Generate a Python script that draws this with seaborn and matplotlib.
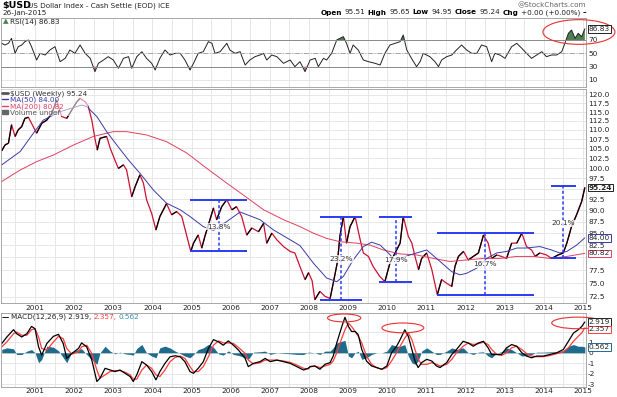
# %%
import matplotlib
matplotlib.use("Agg")
import matplotlib.pyplot as plt
import numpy as np
import seaborn as sns
from matplotlib.collections import LineCollection
from matplotlib.lines import Line2D
from matplotlib.patches import Ellipse, Patch
from matplotlib.ticker import FixedLocator, FuncFormatter, MultipleLocator, NullLocator

OUT_FILE = "out.png"
W, H = 617, 397

# weekly close of $USD (decimal year, index level)
price_t = [2000.15, 2000.23, 2000.32, 2000.40, 2000.49, 2000.57, 2000.66, 2000.74, 2000.83, 2000.91,
           2001.04, 2001.17, 2001.30, 2001.43, 2001.55, 2001.68, 2001.81, 2001.94, 2002.07, 2002.15,
           2002.28, 2002.36, 2002.45, 2002.53, 2002.59, 2002.66, 2002.83, 2002.92, 2003.04, 2003.13,
           2003.26, 2003.34, 2003.47, 2003.56, 2003.68, 2003.77, 2003.85, 2003.98, 2004.09, 2004.19,
           2004.36, 2004.49, 2004.62, 2004.75, 2004.88, 2004.98, 2005.05, 2005.17, 2005.26, 2005.34,
           2005.47, 2005.56, 2005.64, 2005.77, 2005.90, 2006.03, 2006.15, 2006.28, 2006.41, 2006.54,
           2006.71, 2006.84, 2006.92, 2007.05, 2007.18, 2007.35, 2007.52, 2007.64, 2007.77, 2007.90,
           2007.99, 2008.08, 2008.15, 2008.28, 2008.41, 2008.54, 2008.62, 2008.73, 2008.79, 2008.88,
           2008.96, 2009.05, 2009.18, 2009.29, 2009.39, 2009.52, 2009.64, 2009.81, 2009.94, 2010.07,
           2010.20, 2010.33, 2010.41, 2010.54, 2010.63, 2010.71, 2010.80, 2010.88, 2011.01, 2011.14,
           2011.28, 2011.39, 2011.52, 2011.65, 2011.73, 2011.82, 2011.95, 2012.07, 2012.20, 2012.33,
           2012.46, 2012.58, 2012.67, 2012.80, 2012.92, 2013.05, 2013.18, 2013.31, 2013.44, 2013.56,
           2013.69, 2013.78, 2013.90, 2014.07, 2014.20, 2014.37, 2014.50, 2014.59, 2014.71, 2014.84,
           2014.97, 2015.05]
price_v = [104.4, 105.9, 106.4, 111.4, 108.2, 110.0, 110.9, 113.2, 113.5, 111.8,
           109.1, 111.8, 112.7, 114.6, 118.5, 113.7, 113.2, 115.6, 118.0, 119.0,
           118.0, 116.6, 112.7, 107.7, 104.6, 107.7, 108.2, 105.1, 102.0, 99.9,
           100.8, 99.5, 93.1, 95.5, 98.3, 96.3, 92.4, 89.3, 85.7, 88.6,
           91.5, 89.0, 89.7, 88.6, 84.3, 81.2, 82.9, 84.6, 81.9, 84.3,
           87.9, 90.5, 87.9, 90.8, 92.4, 90.1, 90.8, 88.6, 84.6, 86.1,
           85.3, 87.1, 82.9, 85.0, 83.6, 82.2, 81.2, 80.9, 78.2, 75.7,
           77.0, 75.5, 72.0, 73.5, 72.6, 72.2, 75.0, 79.2, 84.3, 88.6,
           82.9, 86.4, 88.6, 84.3, 80.9, 80.2, 78.2, 76.3, 75.3, 78.9,
           80.9, 82.9, 88.6, 84.3, 82.9, 80.2, 77.6, 79.8, 80.9, 77.6,
           72.9, 75.7, 75.0, 74.4, 78.2, 80.2, 81.2, 79.5, 80.2, 80.9,
           84.6, 82.9, 79.8, 80.5, 80.2, 79.8, 82.9, 82.9, 85.0, 82.2,
           81.5, 80.2, 80.9, 80.5, 79.8, 80.5, 80.9, 82.9, 86.4, 89.0,
           92.0, 95.24]

ma50_t = [2000.15, 2000.62, 2000.96, 2001.21, 2001.64, 2002.19, 2002.32, 2002.58, 2002.83, 2003.09,
          2003.39, 2003.68, 2004.02, 2004.36, 2004.71, 2004.96, 2005.30, 2005.56, 2005.90, 2006.24,
          2006.75, 2007.09, 2007.52, 2007.77, 2008.11, 2008.45, 2008.71, 2008.88, 2009.13, 2009.39,
          2009.60, 2009.82, 2009.99, 2010.16, 2010.33, 2010.58, 2011.01, 2011.35, 2011.65, 2011.86,
          2012.03, 2012.29, 2012.54, 2012.80, 2013.05, 2013.31, 2013.56, 2013.90, 2014.20, 2014.41,
          2014.59, 2014.84, 2015.05]
ma50_v = [100.8, 104.2, 109.1, 112.7, 115.1, 117.0, 116.6, 113.7, 109.5, 105.9,
          102.0, 98.7, 94.7, 91.6, 90.1, 88.6, 86.4, 85.6, 87.5, 89.6,
          87.9, 85.7, 83.6, 82.4, 78.9, 76.0, 75.3, 76.3, 79.5, 82.2,
          83.1, 82.5, 81.2, 79.8, 79.8, 80.5, 81.5, 79.2, 77.2, 76.6,
          76.9, 77.9, 79.8, 80.9, 81.2, 81.9, 81.9, 82.2, 81.5, 80.9,
          81.2, 82.5, 84.00]

ma200_t = [2000.15, 2000.62, 2001.04, 2001.47, 2001.98, 2002.49, 2003.00, 2003.34, 2003.85, 2004.36,
           2004.88, 2005.39, 2005.90, 2006.32, 2006.84, 2007.35, 2007.77, 2008.11, 2008.45, 2008.79,
           2009.22, 2009.56, 2009.90, 2010.33, 2010.75, 2011.18, 2011.60, 2012.03, 2012.46, 2012.88,
           2013.31, 2013.73, 2014.16, 2014.59, 2015.05]
ma200_v = [96.7, 99.5, 101.6, 103.3, 105.9, 108.2, 109.5, 109.5, 108.6, 106.8,
           103.8, 99.9, 96.3, 93.5, 90.1, 87.9, 86.4, 85.0, 83.9, 83.2,
           82.9, 82.5, 81.5, 80.7, 80.5, 79.8, 79.2, 79.5, 79.8, 79.8,
           80.2, 80.2, 79.8, 80.2, 80.82]

rsi_t = [2000.15, 2000.23, 2000.32, 2000.40, 2000.49, 2000.57, 2000.66, 2000.74, 2000.83, 2000.91,
         2001.04, 2001.13, 2001.26, 2001.38, 2001.51, 2001.64, 2001.77, 2001.89, 2002.02, 2002.15,
         2002.28, 2002.41, 2002.53, 2002.62, 2002.75, 2002.87, 2003.00, 2003.13, 2003.26, 2003.39,
         2003.47, 2003.60, 2003.73, 2003.85, 2003.98, 2004.07, 2004.19, 2004.32, 2004.45, 2004.58,
         2004.71, 2004.83, 2004.96, 2005.05, 2005.17, 2005.30, 2005.43, 2005.52, 2005.60, 2005.73,
         2005.90, 2005.98, 2006.11, 2006.24, 2006.37, 2006.49, 2006.62, 2006.75, 2006.84, 2006.92,
         2007.05, 2007.18, 2007.35, 2007.52, 2007.64, 2007.77, 2007.90, 2008.03, 2008.16, 2008.24,
         2008.37, 2008.45, 2008.58, 2008.71, 2008.79, 2008.88, 2008.96, 2009.05, 2009.13,
         2009.26, 2009.39, 2009.52, 2009.69, 2009.82, 2009.94, 2010.07, 2010.20, 2010.33, 2010.41,
         2010.50, 2010.62, 2010.75, 2010.84, 2010.92, 2011.09, 2011.22, 2011.31, 2011.39, 2011.52,
         2011.65, 2011.77, 2011.90, 2012.03, 2012.16, 2012.29, 2012.41, 2012.54, 2012.67, 2012.75,
         2012.88, 2013.01, 2013.18, 2013.31, 2013.44, 2013.56, 2013.69, 2013.82, 2013.95, 2014.07,
         2014.20, 2014.33, 2014.46, 2014.54, 2014.63, 2014.71, 2014.80, 2014.88, 2014.97, 2015.05]
rsi_v = [65, 62.5, 65, 72.5, 50, 60, 62.5, 67.5, 70, 60,
         40, 50, 47.5, 55, 60, 37.5, 42.5, 55, 50, 62.5,
         50, 42.5, 22.5, 35, 40, 45, 40, 27.5, 42.5, 45,
         27.5, 45, 52.5, 42.5, 35, 25, 42.5, 55, 47.5, 50,
         50, 40, 25, 35, 50, 52.5, 67.5, 65, 50, 52.5,
         65, 55, 50, 52.5, 32.5, 40, 45, 47.5, 50, 40,
         47.5, 45, 35, 40, 30, 37.5, 22.5, 40, 42.5, 30,
         42.5, 40, 50, 70, 72.5, 75, 65, 50, 62.5,
         55, 40, 37.5, 35, 32.5, 50, 62.5, 65, 67.5, 77.5,
         55, 42.5, 30, 37.5, 50, 45, 37.5, 30, 40, 45,
         47.5, 55, 62.5, 55, 50, 50, 62.5, 60, 37.5, 50,
         47.5, 42.5, 60, 65, 57.5, 50, 42.5, 47.5, 52.5, 45,
         47.5, 47.5, 52.5, 65, 80, 85, 72.5, 80, 75, 86.83]

macd_t = [2000.15, 2000.28, 2000.45, 2000.53, 2000.66, 2000.79, 2000.91, 2001.00, 2001.09, 2001.17,
          2001.30, 2001.47, 2001.60, 2001.72, 2001.81, 2001.94, 2002.11, 2002.19, 2002.32, 2002.45,
          2002.58, 2002.66, 2002.79, 2002.92, 2003.04, 2003.17, 2003.30, 2003.43, 2003.51, 2003.60,
          2003.73, 2003.85, 2003.98, 2004.09, 2004.19, 2004.32, 2004.45, 2004.58, 2004.71, 2004.83,
          2004.96, 2005.05, 2005.17, 2005.30, 2005.43, 2005.56, 2005.69, 2005.81, 2005.94, 2006.07,
          2006.20, 2006.37, 2006.45, 2006.58, 2006.75, 2006.88, 2007.01, 2007.18, 2007.35, 2007.52,
          2007.69, 2007.86, 2007.98,
          2008.03, 2008.15, 2008.28, 2008.41, 2008.54, 2008.62, 2008.71, 2008.84, 2008.92, 2009.01,
          2009.09, 2009.18, 2009.26, 2009.35, 2009.47, 2009.60, 2009.73, 2009.86, 2009.99, 2010.11,
          2010.24, 2010.33, 2010.45, 2010.54, 2010.63, 2010.71, 2010.79, 2010.88, 2011.01, 2011.14,
          2011.26, 2011.35, 2011.52, 2011.65, 2011.77, 2011.94, 2012.07, 2012.20, 2012.33, 2012.46,
          2012.58, 2012.67, 2012.80, 2012.92, 2013.05, 2013.18, 2013.31, 2013.44, 2013.56, 2013.69,
          2013.82, 2013.99, 2014.16, 2014.33, 2014.50, 2014.63, 2014.76, 2014.88, 2014.97, 2015.05]
macd_v = [0.88, 1.50, 2.19, 1.81, 1.50, 1.81, 2.50, 2.28, 0.56, -0.22,
          0.88, 1.56, 1.75, 0.88, -0.53, -0.06, 0.41, 0.94, 0.56, -0.69,
          -2.72, -2.41, -1.47, -1.63, -1.78, -1.63, -1.94, -2.25, -2.72, -2.09,
          -0.84, -1.16, -1.78, -2.56, -1.78, -1.00, -0.38, -0.28, -0.38, -0.84,
          -1.78, -1.94, -1.47, -0.84, 0.41, 1.25, 1.03, 0.72, 1.13, 0.72,
          0.25, -0.53, -1.31, -1.00, -0.84, -0.53, -0.84, -0.69, -0.84, -1.00,
          -1.31, -1.63, -1.47,
          -1.30, -1.25, -1.56, -1.09, -0.93, -0.31, 0.93, 2.49, 3.36, 2.49,
          2.02, 2.02, 1.71, 0.31, -0.78, -1.25, -1.40, -1.56, -1.25, 0.00,
          0.62, 1.25, 2.18, 1.56, 0.31, -0.78, -1.40, -0.93, -0.62, -0.78,
          -1.25, -1.40, -0.93, -0.16, 0.31, 1.09, 0.93, 0.62, 0.93, 1.09,
          0.47, -0.16, -0.16, -0.16, 0.47, 0.78, 0.62, 0.00, -0.31, -0.47,
          -0.31, -0.31, -0.16, 0.00, 0.31, 1.09, 1.87, 2.18, 2.49, 2.919]
signal_v = [0.56, 1.03, 1.81, 1.97, 1.66, 1.66, 2.19, 2.28, 1.50, 0.41,
            0.25, 1.03, 1.56, 1.34, 0.41, -0.13, 0.09, 0.56, 0.72, -0.06,
            -1.63, -2.41, -2.09, -1.78, -1.69, -1.69, -1.84, -2.09, -2.50, -2.50,
            -1.63, -1.16, -1.47, -2.09, -2.25, -1.63, -0.84, -0.44, -0.31, -0.53,
            -1.31, -1.78, -1.78, -1.31, -0.38, 0.72, 1.13, 0.94, 0.94, 0.88,
            0.50, -0.06, -0.69, -1.06, -0.94, -0.69, -0.69, -0.69, -0.78, -0.91,
            -1.16, -1.47, -1.53,
            -1.35, -1.25, -1.40, -1.25, -1.09, -0.78, 0.00, 1.40, 2.18, 2.80,
            2.49, 2.02, 1.56, 0.93, -0.31, -1.09, -1.40, -1.56, -1.40, -0.78,
            0.00, 0.62, 1.40, 1.87, 1.25, 0.31, -0.62, -1.09, -1.09, -0.93,
            -1.09, -1.25, -1.09, -0.62, 0.00, 0.62, 0.93, 0.78, 0.87, 1.00,
            0.78, 0.31, -0.16, -0.25, 0.00, 0.47, 0.62, 0.31, -0.06, -0.31,
            -0.37, -0.37, -0.25, -0.09, 0.09, 0.47, 1.09, 1.56, 1.87, 2.357]

# trading-range brackets drawn on the price panel
box_t0 = [2004.96, 2008.28, 2009.80, 2011.26, 2014.18]
box_t1 = [2006.41, 2009.35, 2010.63, 2013.75, 2014.82]
box_lo = [81.2, 72.0, 75.3, 72.8, 79.8]
box_hi = [92.4, 88.6, 88.6, 85.1, 95.6]
box_mid = [2005.69, 2008.82, 2010.22, 2012.50, 2014.50]
box_pct = ["13.8%", "23.2%", "17.9%", "16.7%", "20.1%"]
box_lab_y = [86.4, 79.7, 79.5, 78.7, 87.1]

# right-axis ticks hidden behind the last-value boxes
hidden_price_ticks = [95.0, 80.0]
hidden_macd_ticks = [2]

RED = "#cc1133"
MA50_C = "#3a3aa8"
MA200_C = "#e2405c"
TEAL = "#1f6b8c"
BRACKET = "#2b3cf5"
GRID = "#e3e3e3"

# %%
sns.set_theme(style="white")
plt.rcParams["font.family"] = ["DejaVu Sans"]

fig = plt.figure(figsize=(W / 100, H / 100), dpi=100)
renderer = fig.canvas.get_renderer()


def px_rect(x0, y0, x1, y1):
    return [x0 / W, 1 - y1 / H, (x1 - x0) / W, (y1 - y0) / H]


def text_run(x_px, y_px, parts, size=5.3, gap=2.5, right=False):
    # lay out text pieces one after another, measured in pixels
    items = [fig.text(0, 1 - y_px / H, txt, fontsize=size, color=col, weight=wt, va="center")
             for txt, col, wt in parts]
    widths = [t.get_window_extent(renderer).width for t in items]
    x = x_px - (sum(widths) + gap * (len(items) - 1)) if right else x_px
    for t, w in zip(items, widths):
        t.set_x(x / W)
        x += w + gap


ax_rsi = fig.add_axes(px_rect(1, 18, 586, 87))
ax_px = fig.add_axes(px_rect(1, 89, 586, 303))
ax_macd = fig.add_axes(px_rect(1, 313, 586, 387))

# RSI panel
r = np.array(rsi_v)
sns.lineplot(x=rsi_t, y=rsi_v, ax=ax_rsi, color="#222222", lw=0.7)
ax_rsi.fill_between(rsi_t, 70, r, where=r > 70, interpolate=True, color="#4f7f52", lw=0)
ax_rsi.fill_between(rsi_t, 30, r, where=r < 30, interpolate=True, color="#c97a93", lw=0)
ax_rsi.axhline(70, color="#8a8a8a", lw=0.7)
ax_rsi.axhline(30, color="#8a8a8a", lw=0.7)
ax_rsi.axhline(50, color="#9a9a9a", lw=0.6, ls=(0, (6, 2, 1, 2)))
ax_rsi.set_ylim(-0.5, 103)
ax_rsi.yaxis.set_major_locator(FixedLocator([10, 30, 50, 70]))

# price panel
sns.lineplot(x=price_t, y=price_v, ax=ax_px, color=RED, lw=0.9)
pts = np.column_stack([price_t, price_v])
segs = np.stack([pts[:-1], pts[1:]], axis=1)[np.diff(price_v) > 0]
ax_px.add_collection(LineCollection(segs, colors="black", linewidths=0.9))
sns.lineplot(x=ma200_t, y=ma200_v, ax=ax_px, color=MA200_C, lw=0.7)
sns.lineplot(x=ma50_t, y=ma50_v, ax=ax_px, color=MA50_C, lw=0.7)

for t0, t1, lo, hi, tm, pct, ly in zip(box_t0, box_t1, box_lo, box_hi, box_mid, box_pct, box_lab_y):
    ax_px.hlines([lo, hi], t0, t1, color=BRACKET, lw=1.4)
    ax_px.vlines(tm, lo, hi, color=BRACKET, lw=1.1, linestyles=(0, (2, 1.5)))
    ax_px.text(tm, ly, pct, ha="center", va="center", fontsize=5.3, color="#333333",
               bbox=dict(boxstyle="square,pad=0.1", fc="white", ec="none", alpha=0.75))

ax_px.set_yscale("log")
ax_px.set_ylim(71.4, 121.8)
ax_px.yaxis.set_major_locator(FixedLocator(np.arange(72.5, 120.1, 2.5)))
ax_px.yaxis.set_minor_locator(NullLocator())
ax_px.yaxis.set_major_formatter(FuncFormatter(
    lambda v, p: "" if any(abs(v - h) < 0.01 for h in hidden_price_ticks) else f"{v:.1f}"))

# MACD panel
hist = np.array(macd_v) - np.array(signal_v)
ax_macd.fill_between(macd_t, 0, hist, color=TEAL, lw=0)
sns.lineplot(x=macd_t, y=signal_v, ax=ax_macd, color="#ff3b3b", lw=0.9)
sns.lineplot(x=macd_t, y=macd_v, ax=ax_macd, color="black", lw=0.9)
ax_macd.set_ylim(-3.24, 3.77)
ax_macd.yaxis.set_major_locator(FixedLocator([-3, -2, -1, 0, 1, 2]))
ax_macd.yaxis.set_major_formatter(FuncFormatter(
    lambda v, p: "" if any(abs(v - h) < 0.01 for h in hidden_macd_ticks) else f"{v:g}"))

for ax in (ax_rsi, ax_px, ax_macd):
    ax.set_xlim(2000.13, 2015.08)
    ax.set_xlabel("")
    ax.set_ylabel("")
    ax.xaxis.set_major_locator(MultipleLocator(1))
    ax.xaxis.set_minor_locator(MultipleLocator(0.5))
    ax.xaxis.set_major_formatter(FuncFormatter(lambda v, p: f"{v:.0f}"))
    ax.grid(True, which="both", axis="x", color=GRID, lw=0.6)
    ax.grid(True, which="major", axis="y", color=GRID, lw=0.6)
    ax.set_axisbelow(True)
    ax.yaxis.tick_right()
    ax.tick_params(axis="both", which="both", length=0, labelsize=5.3, pad=1.5, colors="#222222")
    for s in ax.spines.values():
        s.set_color("#9a9a9a")
        s.set_linewidth(0.6)
ax_rsi.tick_params(labelbottom=False)
ax_macd.tick_params(axis="x", pad=0.5)


def value_box(ax, val, text, ec, weight="normal"):
    ax.annotate(text, xy=(1, val), xycoords=("axes fraction", "data"), xytext=(2, 0),
                textcoords="offset points", ha="left", va="center", fontsize=5.3, weight=weight,
                bbox=dict(boxstyle="square,pad=0.1", fc="white", ec=ec, lw=0.7),
                annotation_clip=False, zorder=6)


value_box(ax_rsi, rsi_v[-1], f"{rsi_v[-1]:.2f}", "#222222")
value_box(ax_px, price_v[-1], f"{price_v[-1]:.2f}", "#222222", "bold")
value_box(ax_px, ma50_v[-1], f"{ma50_v[-1]:.2f}", MA50_C)
value_box(ax_px, ma200_v[-1], f"{ma200_v[-1]:.2f}", MA200_C)
value_box(ax_macd, macd_v[-1], f"{macd_v[-1]:.3f}", "#222222")
value_box(ax_macd, signal_v[-1] - 0.15, f"{signal_v[-1]:.3f}", "#ff3b3b")
value_box(ax_macd, hist[-1], f"{hist[-1]:.3f}", TEAL)

# red ellipses marking the extremes
for ax, cx, cy, w, h in ((ax_rsi, 2014.9, 82, 1.84, 37),
                         (ax_macd, 2008.9, 3.3, 0.85, 0.75),
                         (ax_macd, 2010.40, 2.36, 1.07, 0.93),
                         (ax_macd, 2014.87, 2.83, 1.33, 1.1)):
    ax.add_patch(Ellipse((cx, cy), w, h, fill=False, ec="#e83030", lw=0.8, clip_on=False, zorder=5))

# legends
handles = [Line2D([], [], color="#555555", lw=2),
           Line2D([], [], color=MA50_C, lw=1),
           Line2D([], [], color=MA200_C, lw=1),
           Patch(color="#666666")]
labels = [f"\\$USD (Weekly) {price_v[-1]:.2f}", f"MA(50) {ma50_v[-1]:.2f}",
          f"MA(200) {ma200_v[-1]:.2f}", "Volume undef"]
ax_px.legend(handles, labels, loc="upper left", fontsize=5.2, frameon=True, facecolor="white",
             edgecolor="none", framealpha=0.55, borderaxespad=0.05, borderpad=0.1,
             handlelength=0.8, handleheight=0.4, handletextpad=0.3, labelspacing=0.0,
             labelcolor=["#333333", MA50_C, MA200_C, "#555555"])

text_run(3, 21.5, [("\u25B2", "#4f7f52", "normal"), (f"RSI(14) {rsi_v[-1]:.2f}", "#222222", "normal")],
         size=5.2, gap=1)
text_run(2, 317, [("\u2014", "black", "bold"), (f"MACD(12,26,9) {macd_v[-1]:.3f},", "#222222", "normal"),
                  (f"{signal_v[-1]:.3f},", "#ff3b3b", "normal"), (f"{hist[-1]:.3f}", "#3a8fb0", "normal")],
         size=5.2, gap=2)

# header
text_run(2, 5.5, [("\\$USD", "black", "bold")], size=6.8)
text_run(28, 5.5, [("US Dollar Index - Cash Settle (EOD) ICE", "#222222", "normal")], size=5.2)
text_run(2, 12.5, [("26-Jan-2015", "#222222", "normal")], size=5.2)
text_run(586, 5, [("@StockCharts.com", "#666666", "normal")], size=5.2, right=True)
text_run(586, 12.5, [("Open", "black", "bold"), ("95.51", "#222222", "normal"),
                     ("High", "black", "bold"), ("95.65", "#222222", "normal"),
                     ("Low", "black", "bold"), ("94.95", "#222222", "normal"),
                     ("Close", "black", "bold"), ("95.24", "#222222", "normal"),
                     ("Chg", "black", "bold"), ("+0.00 (+0.00%)", "#222222", "normal"),
                     ("\u2013", "black", "bold")], size=5.2, gap=2.5, right=True)

fig.savefig(OUT_FILE, dpi=100)
plt.close(fig)
